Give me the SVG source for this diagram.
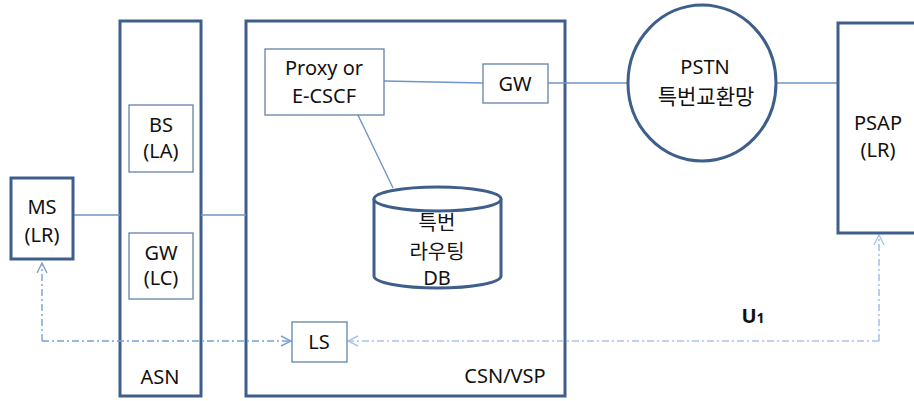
<svg xmlns="http://www.w3.org/2000/svg" width="914" height="401" viewBox="0 0 914 401">
<defs>
<style>
.big{fill:#fff;stroke:#3e5f8b;stroke-width:3}
.small{fill:#fff;stroke:#6482aa;stroke-width:1.3}
.ln{stroke:#6f95c9;stroke-width:1.4;fill:none}
.dd{stroke:#7aa0d4;stroke-width:1.4;fill:none;stroke-dasharray:7 3 2 3}
.dd2{stroke:#a9c4e6;stroke-width:1.6;fill:none;stroke-dasharray:7 3 2 3}
text{font-family:"Noto Sans","Noto Sans CJK KR",sans-serif;font-size:20px;fill:#111;text-anchor:middle}
.ko{font-family:"Noto Sans CJK KR",sans-serif;font-size:21px}
.ko2{font-family:"Noto Sans CJK KR",sans-serif;font-size:20px}
</style>
<marker id="arr" viewBox="0 0 12 12" refX="11" refY="6" markerWidth="12" markerHeight="12" markerUnits="userSpaceOnUse" orient="auto">
<path d="M1,1 L11,6 L1,11" fill="none" stroke="#7aa0d4" stroke-width="1.4"/>
</marker>
<marker id="arr2" viewBox="0 0 12 12" refX="11" refY="6" markerWidth="12" markerHeight="12" markerUnits="userSpaceOnUse" orient="auto">
<path d="M1,1 L11,6 L1,11" fill="none" stroke="#a9c4e6" stroke-width="1.4"/>
</marker>
</defs>
<rect width="914" height="401" fill="#fff"/>

<g id="asn">
<rect class="big" x="120" y="21" width="81" height="375"/>
<text x="160" y="384">ASN</text>
</g>
<g id="csn">
<rect class="big" x="246" y="21" width="319" height="375"/>
<text x="505" y="383">CSN/VSP</text>
</g>

<g id="connectors">
<line class="ln" x1="73" y1="215" x2="120" y2="215"/>
<line class="ln" x1="201" y1="215" x2="246" y2="215"/>
<line class="ln" x1="384" y1="81" x2="483" y2="83"/>
<line class="ln" x1="548" y1="83" x2="628" y2="83"/>
<line class="ln" x1="777" y1="83" x2="838" y2="83"/>
<line class="ln" x1="357" y1="113" x2="393" y2="188"/>
<polyline class="dd" points="42,341 291,341" marker-end="url(#arr)"/>
<polyline class="dd" points="42,341 42,263" marker-end="url(#arr)"/>
<polyline class="dd2" points="879,341 348,341" marker-end="url(#arr2)"/>
<polyline class="dd2" points="879,341 879,235" marker-end="url(#arr2)"/>
</g>

<g id="ms">
<rect class="big" x="11" y="178" width="62" height="81"/>
<text x="42" y="214">MS</text>
<text x="42" y="242">(LR)</text>
</g>
<g id="bs">
<rect class="small" x="129" y="105" width="64" height="67"/>
<text x="161" y="132">BS</text>
<text x="161" y="158">(LA)</text>
</g>
<g id="gw-lc">
<rect class="small" x="129" y="233" width="64" height="66"/>
<text x="161" y="260">GW</text>
<text x="161" y="285">(LC)</text>
</g>
<g id="proxy">
<rect class="small" x="265" y="49" width="119" height="66"/>
<text x="324" y="75">Proxy or</text>
<text x="324" y="103">E-CSCF</text>
</g>
<g id="gw">
<rect class="small" x="483" y="64" width="65" height="39"/>
<text x="515" y="91">GW</text>
</g>
<g id="db">
<path class="big" d="M374,199 L374,276 A63.5,12 0 0 0 501,276 L501,199"/>
<ellipse class="big" cx="437.5" cy="199" rx="63.5" ry="12"/>
<text class="ko2" x="437" y="230">특번</text>
<text class="ko2" x="437" y="259">라우팅</text>
<text x="437" y="285">DB</text>
</g>
<g id="ls">
<rect class="small" x="292" y="322" width="55" height="40"/>
<text x="319" y="349">LS</text>
</g>
<g id="pstn">
<ellipse class="big" cx="702" cy="83" rx="74" ry="78"/>
<text x="705" y="74">PSTN</text>
<text class="ko" x="706" y="104">특번교환망</text>
</g>
<g id="psap">
<rect class="big" x="838" y="23" width="90" height="210"/>
<text x="878" y="130">PSAP</text>
<text x="878" y="157">(LR)</text>
</g>
<text x="753" y="323" style="font-weight:bold">U<tspan style="font-size:14px">1</tspan></text>
</svg>
